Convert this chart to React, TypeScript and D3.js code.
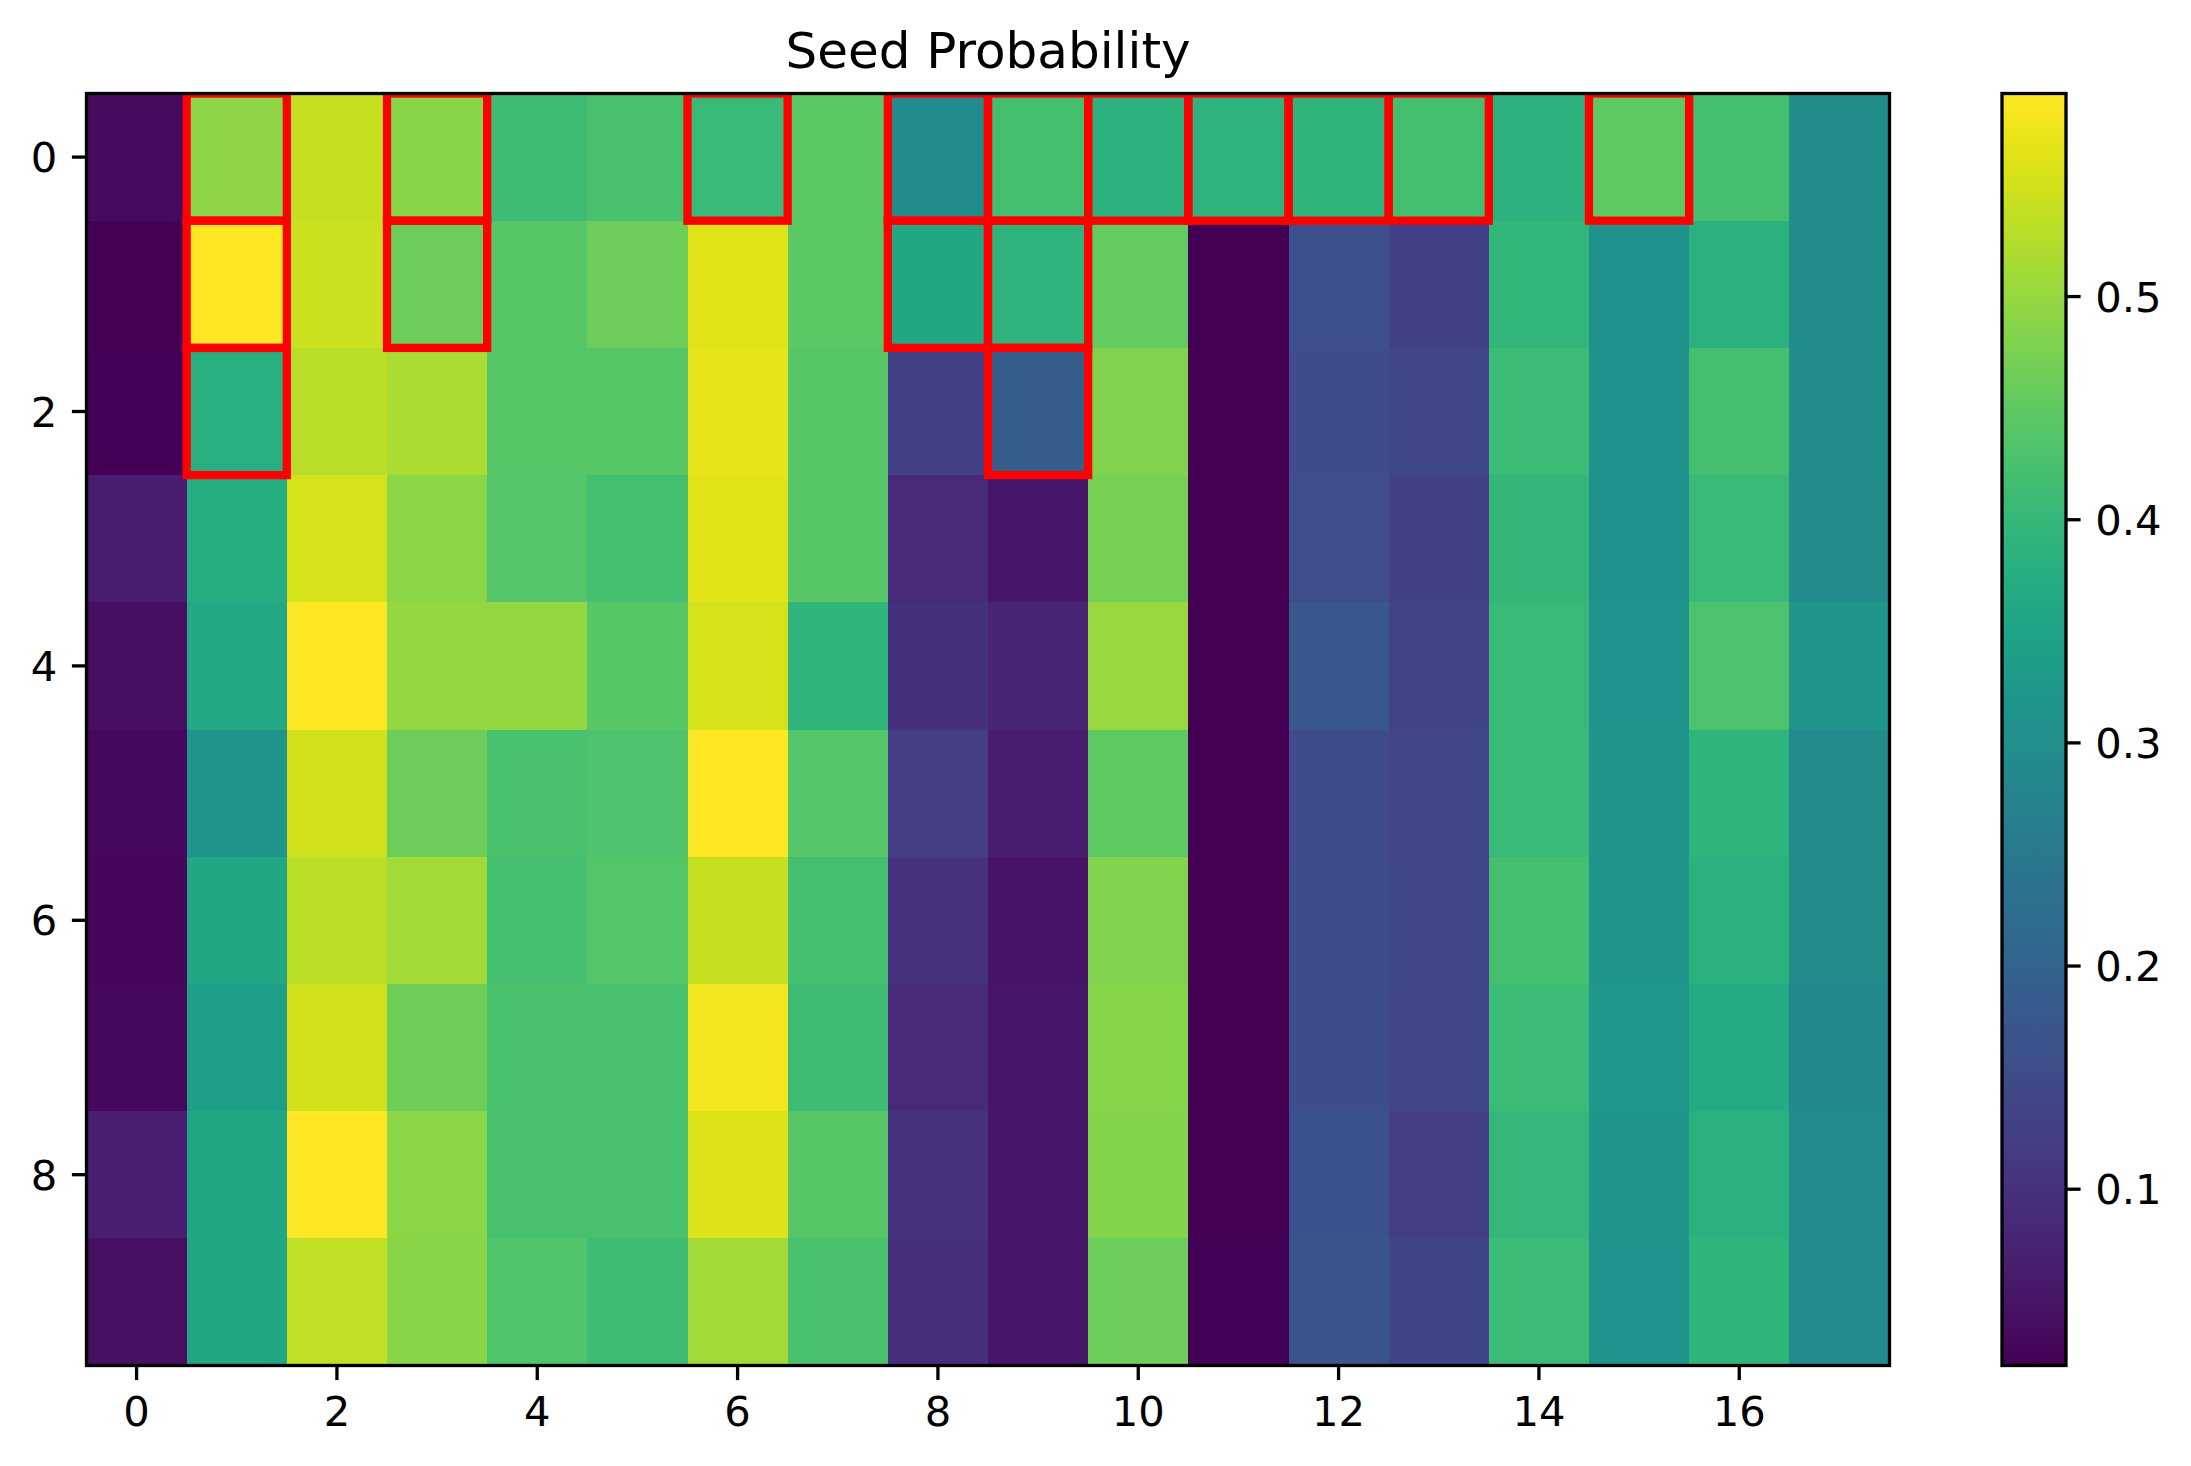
import React from "react";
import * as d3 from "d3";

// ---- data (rows 0..9, columns 0..17) ----
const title = "Seed Probability";
const colIndex = d3.range(18);
const rowIndex = d3.range(10);
const xTickValues = [0, 2, 4, 6, 8, 10, 12, 14, 16];
const yTickValues = [0, 2, 4, 6, 8];
const colorbarTicks = [0.1, 0.2, 0.3, 0.4, 0.5];

const row0 = [0.037, 0.495, 0.542, 0.49, 0.415, 0.425, 0.406, 0.447, 0.295, 0.42, 0.386, 0.389, 0.392, 0.42, 0.386, 0.449, 0.42, 0.3];
const row1 = [0.021, 0.59, 0.545, 0.464, 0.44, 0.464, 0.564, 0.445, 0.36, 0.389, 0.455, 0.021, 0.158, 0.128, 0.397, 0.312, 0.386, 0.3];
const row2 = [0.025, 0.38, 0.53, 0.518, 0.44, 0.44, 0.57, 0.44, 0.128, 0.19, 0.484, 0.021, 0.152, 0.143, 0.41, 0.31, 0.42, 0.3];
const row3 = [0.065, 0.375, 0.555, 0.492, 0.438, 0.421, 0.564, 0.44, 0.09, 0.054, 0.472, 0.021, 0.156, 0.128, 0.398, 0.31, 0.405, 0.295];
const row4 = [0.043, 0.364, 0.591, 0.498, 0.498, 0.44, 0.555, 0.392, 0.1, 0.077, 0.504, 0.021, 0.175, 0.135, 0.405, 0.315, 0.43, 0.318];
const row5 = [0.033, 0.318, 0.55, 0.464, 0.427, 0.432, 0.591, 0.438, 0.125, 0.065, 0.449, 0.021, 0.152, 0.14, 0.405, 0.318, 0.392, 0.295];
const row6 = [0.032, 0.36, 0.533, 0.512, 0.42, 0.438, 0.541, 0.42, 0.102, 0.052, 0.483, 0.021, 0.153, 0.143, 0.42, 0.318, 0.386, 0.295];
const row7 = [0.033, 0.34, 0.55, 0.466, 0.427, 0.425, 0.581, 0.415, 0.09, 0.054, 0.487, 0.021, 0.154, 0.14, 0.41, 0.322, 0.37, 0.29];
const row8 = [0.068, 0.36, 0.59, 0.492, 0.425, 0.425, 0.561, 0.44, 0.102, 0.054, 0.485, 0.021, 0.163, 0.125, 0.4, 0.318, 0.386, 0.293];
const row9 = [0.045, 0.36, 0.537, 0.49, 0.435, 0.415, 0.512, 0.427, 0.097, 0.054, 0.464, 0.025, 0.17, 0.137, 0.41, 0.315, 0.392, 0.293];
const seedProbability = [row0, row1, row2, row3, row4, row5, row6, row7, row8, row9];

// highlighted cells as [column, row]
const highlighted: [number, number][] = [
  [1, 0], [1, 1], [1, 2],
  [3, 0], [3, 1],
  [6, 0],
  [8, 0], [8, 1],
  [9, 0], [9, 1], [9, 2],
  [10, 0], [11, 0], [12, 0], [13, 0],
  [15, 0],
];

// ---- layout ----
const W = 2191;
const H = 1466;
const plot = { left: 86.5, right: 1889.5, top: 93.5, bottom: 1365.5 };
const cbar = { left: 2002, right: 2066 };
const FONT = "DejaVu Sans, Liberation Sans, sans-serif";
const TICK_FS = 41.7;
const TICK_LEN = 14.6;
const TICK_PAD = 14.6;
const SPINE = 3.3;

export default function App() {
  const x = d3.scaleLinear().domain([-0.5, 17.5]).range([plot.left, plot.right]);
  const y = d3.scaleLinear().domain([-0.5, 9.5]).range([plot.top, plot.bottom]);
  const all = seedProbability.flat();
  const [vmin, vmax] = d3.extent(all) as [number, number];
  const color = d3.scaleSequential(d3.interpolateViridis).domain([vmin, vmax]);
  const cy = d3.scaleLinear().domain([vmin, vmax]).range([plot.bottom, plot.top]);
  const stops = d3.range(0, 1.0001, 1 / 64);

  return (
    <svg
      width={W}
      height={H}
      viewBox={`0 0 ${W} ${H}`}
      style={{ position: "absolute", left: 0, top: 0, background: "#fff" }}
      fontFamily={FONT}
    >
      <defs>
        <clipPath id="plotClip">
          <rect x={plot.left} y={plot.top} width={plot.right - plot.left} height={plot.bottom - plot.top} />
        </clipPath>
        <linearGradient id="cbarGrad" x1="0" y1="1" x2="0" y2="0">
          {stops.map((t, i) => (
            <stop key={i} offset={t} stopColor={d3.interpolateViridis(t)} />
          ))}
        </linearGradient>
      </defs>
      <rect x={0} y={0} width={W} height={H} fill="#fff" />

      {/* heatmap cells */}
      <g shapeRendering="crispEdges">
        {rowIndex.map((r) =>
          colIndex.map((c) => (
            <rect
              key={`${r}-${c}`}
              x={x(c - 0.5)}
              y={y(r - 0.5)}
              width={x(c + 0.5) - x(c - 0.5) + 0.5}
              height={y(r + 0.5) - y(r - 0.5) + 0.5}
              fill={color(seedProbability[r][c])}
            />
          ))
        )}
      </g>

      {/* highlight rectangles */}
      <g clipPath="url(#plotClip)">
        {highlighted.map(([c, r], i) => (
          <rect
            key={i}
            x={x(c - 0.5)}
            y={y(r - 0.5)}
            width={x(c + 0.5) - x(c - 0.5)}
            height={y(r + 0.5) - y(r - 0.5)}
            fill="none"
            stroke="#ff0000"
            strokeWidth={8.3}
          />
        ))}
      </g>

      {/* spines */}
      <rect
        x={plot.left}
        y={plot.top}
        width={plot.right - plot.left}
        height={plot.bottom - plot.top}
        fill="none"
        stroke="#000"
        strokeWidth={SPINE}
      />

      {/* x ticks */}
      {xTickValues.map((v) => (
        <g key={`x${v}`}>
          <line x1={x(v)} x2={x(v)} y1={plot.bottom} y2={plot.bottom + TICK_LEN} stroke="#000" strokeWidth={SPINE} />
          <text x={x(v)} y={plot.bottom + TICK_LEN + TICK_PAD + 31} textAnchor="middle" fontSize={TICK_FS} fill="#000">
            {v}
          </text>
        </g>
      ))}

      {/* y ticks */}
      {yTickValues.map((v) => (
        <g key={`y${v}`}>
          <line x1={plot.left - TICK_LEN} x2={plot.left} y1={y(v)} y2={y(v)} stroke="#000" strokeWidth={SPINE} />
          <text x={plot.left - TICK_LEN - TICK_PAD} y={y(v) + 15} textAnchor="end" fontSize={TICK_FS} fill="#000">
            {v}
          </text>
        </g>
      ))}

      {/* title */}
      <text x={(plot.left + plot.right) / 2} y={68} textAnchor="middle" fontSize={50} fill="#000">
        {title}
      </text>

      {/* colorbar */}
      <rect x={cbar.left} y={plot.top} width={cbar.right - cbar.left} height={plot.bottom - plot.top} fill="url(#cbarGrad)" />
      <rect
        x={cbar.left}
        y={plot.top}
        width={cbar.right - cbar.left}
        height={plot.bottom - plot.top}
        fill="none"
        stroke="#000"
        strokeWidth={SPINE}
      />
      {colorbarTicks.map((v) => (
        <g key={`c${v}`}>
          <line x1={cbar.right} x2={cbar.right + TICK_LEN} y1={cy(v)} y2={cy(v)} stroke="#000" strokeWidth={SPINE} />
          <text x={cbar.right + TICK_LEN + TICK_PAD} y={cy(v) + 15} textAnchor="start" fontSize={TICK_FS} fill="#000">
            {v.toFixed(1)}
          </text>
        </g>
      ))}
    </svg>
  );
}
